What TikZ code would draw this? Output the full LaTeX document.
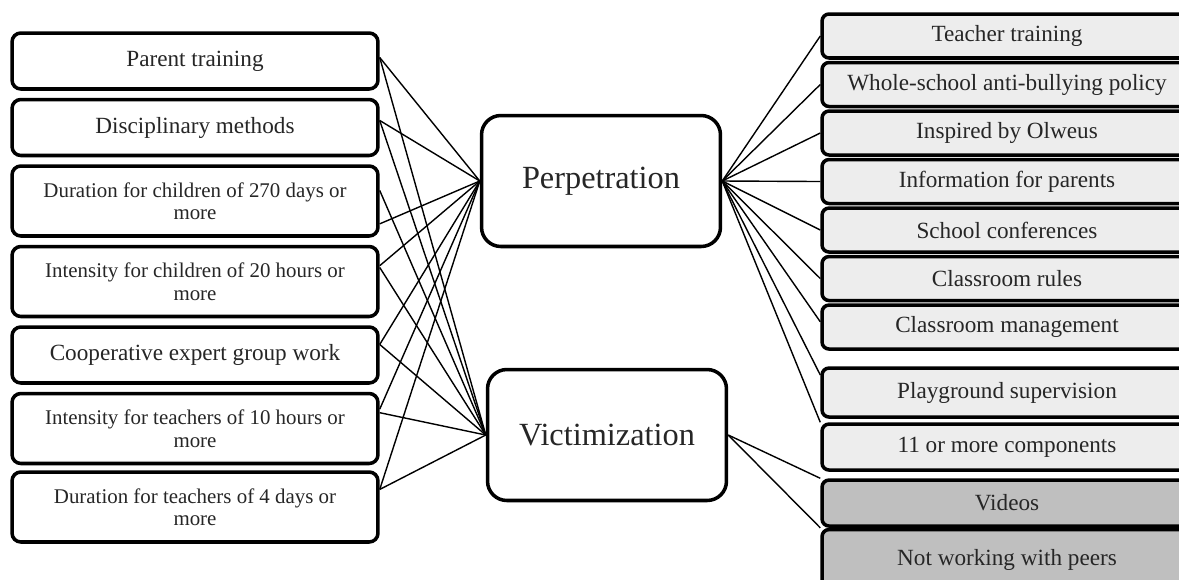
\documentclass[tikz,border=0pt]{standalone}
\usepackage{fontspec}
\setmainfont{Liberation Serif}
\usetikzlibrary{positioning}
\tikzstyle{factor}=[rectangle, rounded corners=5pt, draw, line width=2pt, minimum width=7.32cm, minimum height=1.12cm, align=center, text=black!85, font=\fontsize{13.2}{15}\selectfont]
\tikzstyle{factorl}=[factor, minimum height=1.4cm, font=\fontsize{11.9}{12.8}\selectfont]
\tikzstyle{comp}=[rectangle, rounded corners=4pt, draw, line width=2pt, fill=black!7, minimum width=7.4cm, minimum height=0.88cm, inner sep=0pt, text=black!85, font=\fontsize{13.2}{15}\selectfont]
\tikzstyle{compd}=[comp, fill=black!25]
\tikzstyle{outcome}=[rectangle, rounded corners=11pt, draw, line width=2pt, minimum width=4.78cm, minimum height=2.62cm, text=black!85, font=\fontsize{18.4}{22}\selectfont]
\tikzstyle{link}=[line width=0.8pt]

\begin{document}
\begin{tikzpicture}[x=0.02cm,y=-0.02cm]
\useasboundingbox[fill=white] (0,0) rectangle (1179,579);

\node[factor] (pt) at (195,61) {Parent training};
\node[factor] (dm) [below=0.14cm of pt] {Disciplinary methods};
\node[factorl] (dc) [below=0.14cm of dm] {Duration for children of 270 days or\\more};
\node[factorl] (ic) [below=0.14cm of dc] {Intensity for children of 20 hours or\\more};
\node[factor] (cw) [below=0.14cm of ic] {Cooperative expert group work};
\node[factorl] (it) [below=0.14cm of cw] {Intensity for teachers of 10 hours or\\more};
\node[factorl] (dt) [below=0.1cm of it] {Duration for teachers of 4 days or\\more};

\node[outcome] (p) at (601,181) {Perpetration};
\node[outcome] (v) at (607,435) {Victimization};

\node[comp] (tt) at (1007,36) {Teacher training};
\node[comp] (ws) [below=0.02cm of tt] {Whole-school anti-bullying policy};
\node[comp] (io) [below=0.02cm of ws] {Inspired by Olweus};
\node[comp] (ip) [below=0.02cm of io] {Information for parents};
\node[comp] (sc) [below=0.02cm of ip] {School conferences};
\node[comp] (cr) [below=0.02cm of sc] {Classroom rules};
\node[comp] (cm) [below=0.02cm of cr] {Classroom management};
\node[comp] (pg) [below=0.31cm of cm, minimum height=0.98cm] {Playground supervision};
\node[comp] (mc) [below=0.07cm of pg, minimum height=0.92cm] {11 or more components};
\node[compd] (vd) [below=0.13cm of mc, minimum height=0.92cm] {Videos};
\node[compd] (nw) [below=0cm of vd, minimum height=1.2cm] {Not working with peers};

%% left side: every factor goes to both outcomes
\draw[link] ([yshift=2pt]pt.east) -- (p.west);
\draw[link] ([yshift=2pt]pt.east) -- (v.west);
\draw[link] ([yshift=4pt]dm.east) -- (p.west);
\draw[link] ([yshift=4pt]dm.east) -- (v.west);
\draw[link] ([yshift=-13pt]dc.east) -- (p.west);
\draw[link] ([yshift=6pt]dc.east) -- (v.west);
\draw[link] ([yshift=9pt]ic.east) -- (p.west);
\draw[link] ([yshift=8pt]ic.east) -- (v.west);
\draw[link] ([yshift=6pt]cw.east) -- (p.west);
\draw[link] ([yshift=6pt]cw.east) -- (v.west);
\draw[link] ([yshift=11pt]it.east) -- (p.west);
\draw[link] ([yshift=9pt]it.east) -- (v.west);
\draw[link] ([yshift=10pt]dt.east) -- (p.west);
\draw[link] ([yshift=10pt]dt.east) -- (v.west);

\draw[link] (p.east) -- (tt.west);
\draw[link] (p.east) -- (ws.west);
\draw[link] (p.east) -- (io.west);
\draw[link] (p.east) -- (ip.west);
\draw[link] (p.east) -- (sc.west);
\draw[link] (p.east) -- (cr.west);
\draw[link] (p.east) -- ([yshift=3pt]cm.west);
\draw[link] (p.east) -- ([yshift=10pt]pg.west);
\draw[link] (p.east) -- (mc.north west);
\draw[link] (v.east) -- (vd.north west);
\draw[link] (v.east) -- (nw.north west);

\end{tikzpicture}
\end{document}
